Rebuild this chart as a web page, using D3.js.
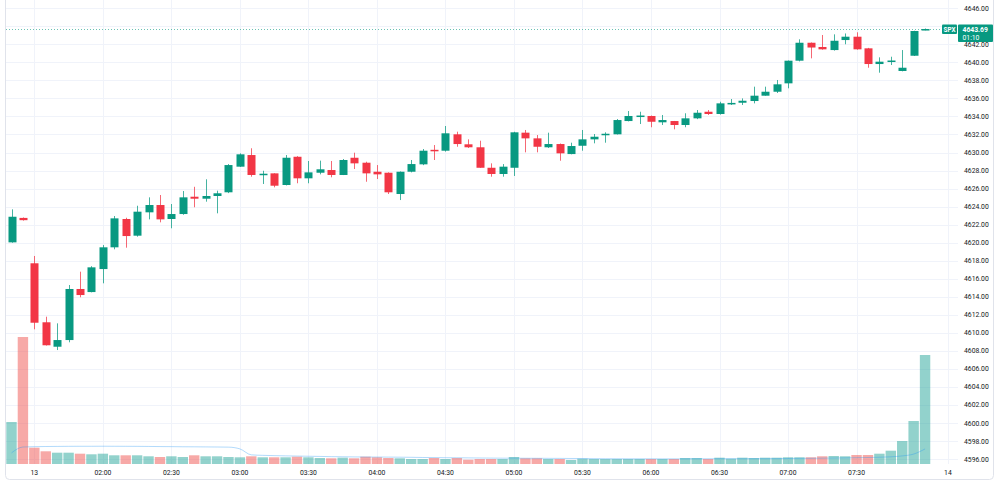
<!DOCTYPE html>
<html>
<head>
<meta charset="utf-8">
<script src="https://cdn.jsdelivr.net/npm/d3@7"></script>
<style>
  body { margin: 0; background: #fff; }
  svg { display: block; font-family: Roboto, "Liberation Sans", sans-serif; }
</style>
</head>
<body>
<script>
'use strict';

// 5 minute bars, from the last two bars of the 12th to the close of the 13th
const opens = [4620.04, 4622.75, 4617.72, 4611.18, 4608.47, 4609.21, 4614.87, 4614.53, 4617.08, 4619.49,
  4622.63, 4620.78, 4623.37, 4624.18, 4622.63, 4623.18, 4625.10, 4624.88, 4625.18, 4625.59,
  4628.43, 4629.72, 4627.60, 4627.69, 4626.40, 4629.53, 4627.14, 4627.76, 4628.06, 4627.51,
  4629.42, 4628.87, 4627.87, 4627.76, 4625.40, 4627.87, 4628.69, 4630.30, 4630.20, 4632.02,
  4630.91, 4630.58, 4628.31, 4627.62, 4628.31, 4632.20, 4631.57, 4630.58, 4630.94, 4629.83,
  4630.75, 4631.46, 4632.00, 4632.02, 4633.49, 4634.05, 4634.05, 4633.35, 4633.49, 4633.05,
  4633.79, 4634.52, 4634.27, 4635.40, 4635.52, 4635.71, 4636.30, 4636.74, 4637.67, 4640.18,
  4642.17, 4641.70, 4641.36, 4642.47, 4642.84, 4641.55, 4639.81, 4640.10, 4639.04, 4640.73,
  4643.60];
const highs = [4623.70, 4622.80, 4618.53, 4611.80, 4611.06, 4615.31, 4616.79, 4617.40, 4619.74, 4622.96,
  4622.77, 4624.10, 4625.03, 4625.29, 4624.29, 4625.73, 4626.20, 4627.03, 4625.77, 4628.72,
  4629.91, 4630.47, 4627.98, 4627.70, 4629.72, 4629.60, 4629.06, 4629.10, 4629.06, 4629.28,
  4629.98, 4628.98, 4628.61, 4627.80, 4627.90, 4629.17, 4630.39, 4630.83, 4632.94, 4632.31,
  4631.46, 4631.31, 4628.80, 4628.72, 4632.30, 4632.50, 4631.94, 4632.20, 4631.00, 4631.09,
  4632.50, 4632.05, 4632.24, 4633.71, 4634.60, 4634.52, 4634.10, 4634.16, 4633.50, 4634.35,
  4634.71, 4634.71, 4635.63, 4635.93, 4636.00, 4637.30, 4637.30, 4638.04, 4640.20, 4642.55,
  4642.20, 4643.03, 4643.10, 4643.20, 4643.33, 4641.60, 4640.55, 4640.62, 4641.36, 4643.50,
  4643.75];
const lows = [4620.00, 4622.45, 4610.40, 4608.60, 4608.10, 4608.96, 4613.95, 4614.50, 4615.50, 4619.27,
  4619.45, 4620.67, 4622.59, 4622.26, 4621.60, 4623.10, 4623.93, 4624.55, 4623.26, 4625.50,
  4628.40, 4627.32, 4626.51, 4626.14, 4626.35, 4626.59, 4626.59, 4627.58, 4627.25, 4627.50,
  4628.17, 4626.76, 4627.06, 4625.40, 4624.73, 4627.80, 4628.60, 4629.17, 4630.10, 4630.64,
  4630.50, 4628.30, 4627.32, 4627.32, 4627.40, 4630.02, 4630.02, 4630.50, 4629.09, 4629.80,
  4630.20, 4631.02, 4631.09, 4632.00, 4633.45, 4633.16, 4632.80, 4633.05, 4632.57, 4632.80,
  4633.70, 4634.16, 4634.20, 4635.27, 4635.27, 4635.45, 4636.30, 4636.60, 4637.12, 4640.10,
  4640.44, 4641.40, 4641.30, 4642.00, 4641.40, 4639.40, 4638.85, 4639.70, 4639.00, 4640.70,
  4643.55];
const closes = [4622.88, 4622.50, 4611.13, 4608.63, 4609.21, 4614.87, 4614.20, 4617.27, 4619.49, 4622.70,
  4620.74, 4623.44, 4624.18, 4622.59, 4623.18, 4625.03, 4624.88, 4625.18, 4625.48, 4628.61,
  4629.80, 4627.51, 4627.65, 4626.32, 4629.42, 4627.14, 4627.80, 4628.14, 4627.51, 4629.17,
  4628.80, 4627.69, 4627.58, 4625.59, 4627.87, 4628.72, 4630.20, 4630.25, 4632.13, 4630.94,
  4630.58, 4628.31, 4627.62, 4628.43, 4632.24, 4631.57, 4630.64, 4630.94, 4629.91, 4630.72,
  4631.46, 4631.75, 4632.08, 4633.60, 4634.05, 4634.10, 4633.41, 4633.60, 4633.05, 4633.79,
  4634.41, 4634.27, 4635.45, 4635.50, 4635.74, 4636.30, 4636.74, 4637.56, 4640.18, 4642.17,
  4641.64, 4641.44, 4642.39, 4642.84, 4641.44, 4639.81, 4640.07, 4640.20, 4639.40, 4643.47,
  4643.69];
const volumes = [420, 1270, 163, 127, 113, 113, 103, 97, 103, 87,
  87, 87, 77, 70, 77, 70, 87, 77, 77, 70,
  67, 77, 67, 67, 67, 73, 67, 60, 57, 63,
  57, 73, 67, 60, 57, 50, 50, 60, 50, 60,
  43, 50, 50, 50, 70, 57, 57, 50, 50, 40,
  53, 50, 50, 50, 50, 50, 50, 50, 50, 60,
  60, 50, 63, 53, 63, 60, 63, 63, 67, 67,
  67, 77, 80, 77, 90, 90, 103, 133, 230, 430,
  1090];
// bars before the first visible one, only needed for the volume average
const volumesBefore = [95, 95, 95, 95, 95, 95, 95, 95, 95, 95, 95, 95, 95, 95, 95, 95, 95, 95, 95];
const maLength = 20;

const tickBars = [2, 8, 14, 20, 26, 32, 38, 44, 50, 56, 62, 68, 74, 82];
const tickLabels = ["13", "02:00", "02:30", "03:00", "03:30", "04:00", "04:30", "05:00",
  "05:30", "06:00", "06:30", "07:00", "07:30", "14"];
const priceTicks = d3.range(4596, 4647, 2);

const symbol = "SPX";
const lastPrice = 4643.69;
const countdown = "01:10";

const upColor = "#089981";
const downColor = "#f23645";
const upVol = "rgba(38,166,154,0.5)";
const downVol = "rgba(239,83,80,0.5)";
const gridColor = "#f0f3fa";
const textColor = "#131722";

let svg = d3.select('body')
  .append('svg')
  .attr('width', 1000)
  .attr('height', 483);

// scales
let x = d3.scaleLinear().domain([0, 82]).range([11.5, 947.9]);
let y = d3.scaleLinear().domain([4596, 4646]).range([459.2, 8.2]);
let yVol = d3.scaleLinear().domain([0, 1270]).range([464, 337]);

const plotLeft = 6, plotRight = 958, plotBottom = 464;

svg.append('clipPath').attr('id', 'plot')
  .append('rect')
  .attr('x', plotLeft).attr('y', 0)
  .attr('width', plotRight - plotLeft).attr('height', plotBottom);

// grid
svg.append('g')
  .selectAll('line')
  .data(priceTicks)
  .enter()
  .append('line')
  .attr('x1', plotLeft).attr('x2', plotRight)
  .attr('y1', d => Math.round(y(d)) + 0.5)
  .attr('y2', d => Math.round(y(d)) + 0.5)
  .attr('stroke', gridColor);

svg.append('g')
  .selectAll('line')
  .data(tickBars)
  .enter()
  .append('line')
  .attr('x1', d => Math.round(x(d)) + 0.5)
  .attr('x2', d => Math.round(x(d)) + 0.5)
  .attr('y1', 0).attr('y2', plotBottom)
  .attr('stroke', gridColor);

let bars = d3.range(closes.length);
let plot = svg.append('g').attr('clip-path', 'url(#plot)');

// volume
plot.append('g')
  .selectAll('rect')
  .data(bars)
  .enter()
  .append('rect')
  .attr('x', i => x(i) - 5.2)
  .attr('width', 10.4)
  .attr('y', i => yVol(volumes[i]))
  .attr('height', i => yVol(0) - yVol(volumes[i]))
  .attr('fill', i => closes[i] >= opens[i] ? upVol : downVol);

// volume moving average
let allVol = volumesBefore.concat(volumes);
let ma = bars.map(i => {
  let k = i + volumesBefore.length;
  return d3.mean(allVol.slice(k - maLength + 1, k + 1));
});
plot.append('path')
  .datum(bars)
  .attr('fill', 'none')
  .attr('stroke', 'rgba(33,150,243,0.35)')
  .attr('stroke-width', 1)
  .attr('d', d3.line().x(i => x(i)).y(i => yVol(ma[i])).curve(d3.curveMonotoneX));

// candles
let candles = plot.append('g')
  .selectAll('g')
  .data(bars)
  .enter()
  .append('g');

candles.append('line')
  .attr('x1', i => Math.round(x(i)) + 0.5)
  .attr('x2', i => Math.round(x(i)) + 0.5)
  .attr('y1', i => y(highs[i]))
  .attr('y2', i => y(lows[i]))
  .attr('stroke', i => closes[i] >= opens[i] ? upColor : downColor)
  .attr('stroke-opacity', 0.75);

candles.append('rect')
  .attr('x', i => Math.round(x(i)) - 3.5)
  .attr('width', 8)
  .attr('y', i => y(Math.max(opens[i], closes[i])))
  .attr('height', i => Math.max(1.5, Math.abs(y(opens[i]) - y(closes[i]))))
  .attr('fill', i => closes[i] >= opens[i] ? upColor : downColor);

// last price line
svg.append('line')
  .attr('x1', plotLeft).attr('x2', 942)
  .attr('y1', Math.round(y(lastPrice)) + 0.5)
  .attr('y2', Math.round(y(lastPrice)) + 0.5)
  .attr('stroke', upColor)
  .attr('stroke-opacity', 0.6)
  .attr('stroke-dasharray', '1,2');

// price axis labels (the one under the last price tag is hidden, as in the original)
let tagY = y(lastPrice) - 4.5;
svg.append('g')
  .selectAll('text')
  .data(priceTicks.filter(d => y(d) < tagY - 4 || y(d) > tagY + 19))
  .enter()
  .append('text')
  .attr('x', 964)
  .attr('y', d => y(d))
  .attr('dy', '0.35em')
  .style('font-size', '6.8px')
  .attr('fill', textColor)
  .text(d => d3.format('.2f')(d));

// time axis labels
svg.append('g')
  .selectAll('text')
  .data(tickBars)
  .enter()
  .append('text')
  .attr('x', d => x(d))
  .attr('y', 472.5)
  .attr('dy', '0.35em')
  .attr('text-anchor', 'middle')
  .style('font-size', '6.8px')
  .attr('fill', textColor)
  .text((d, i) => tickLabels[i]);

// symbol and last price tags
svg.append('rect')
  .attr('x', 942).attr('y', tagY)
  .attr('width', 15).attr('height', 9.5)
  .attr('rx', 1)
  .attr('fill', upColor);
svg.append('text')
  .attr('x', 949.5).attr('y', tagY + 4.8)
  .attr('dy', '0.35em')
  .attr('text-anchor', 'middle')
  .style('font-size', '6.3px')
  .style('font-weight', 'bold')
  .attr('fill', '#fff')
  .text(symbol);

svg.append('rect')
  .attr('x', 958).attr('y', tagY)
  .attr('width', 35).attr('height', 17.5)
  .attr('rx', 1)
  .attr('fill', upColor);
svg.append('text')
  .attr('x', 962.5).attr('y', tagY + 4.8)
  .attr('dy', '0.35em')
  .style('font-size', '6.8px')
  .style('font-weight', 'bold')
  .attr('fill', '#fff')
  .text(d3.format('.2f')(lastPrice));
svg.append('text')
  .attr('x', 962.5).attr('y', tagY + 13)
  .attr('dy', '0.35em')
  .style('font-size', '6.8px')
  .attr('fill', '#fff')
  .text(countdown);

// outer frame
svg.append('rect')
  .attr('x', 5.5).attr('y', -6)
  .attr('width', 988).attr('height', 485.5)
  .attr('rx', 4)
  .attr('fill', 'none')
  .attr('stroke', '#e0e3eb');
</script>
</body>
</html>
